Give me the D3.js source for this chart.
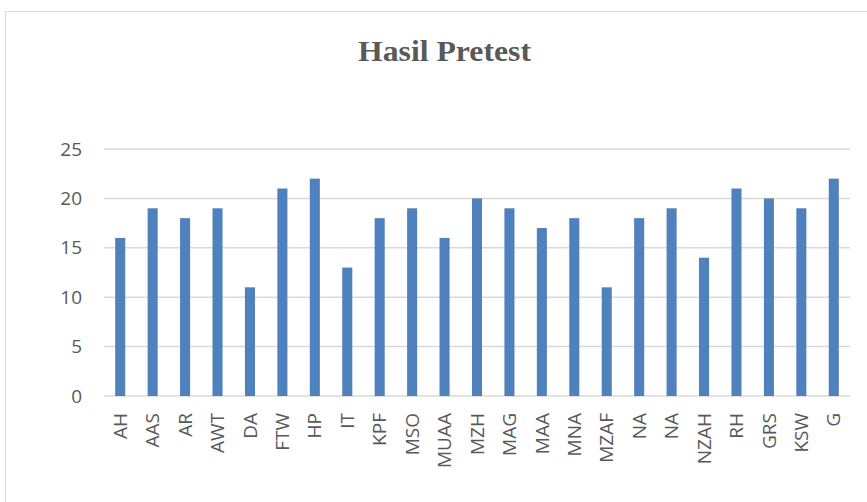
<!DOCTYPE html>
<html>
<head>
<meta charset="utf-8">
<script src="https://cdn.jsdelivr.net/npm/d3@7"></script>
<style>
  body { margin: 0; background: #fff; }
  svg { display: block; }
</style>
</head>
<body>
<svg id="chart" width="867" height="502"></svg>
<script>
// data
const names = [ 'AH', 'AAS', 'AR', 'AWT', 'DA', 'FTW', 'HP', 'IT', 'KPF', 'MSO', 'MUAA', 'MZH',
                'MAG', 'MAA', 'MNA', 'MZAF', 'NA', 'NA', 'NZAH', 'RH', 'GRS', 'KSW', 'G' ]
const scores = [ 16, 19, 18, 19, 11, 21, 22, 13, 18, 19, 16, 20, 19, 17, 18, 11, 18, 19, 14, 21, 20, 19, 22 ]
const yTicks = [ 0, 5, 10, 15, 20, 25 ]
const title = 'Hasil Pretest'

const svg = d3.select('#chart')
const plot = { left: 104, right: 850, top: 149, bottom: 396 }
const labelFont = '"Open Sans", "Liberation Sans", sans-serif'

// chart frame
svg.append('rect')
  .attr('x', 5.5).attr('y', 11.5)
  .attr('width', 900).attr('height', 600)
  .attr('fill', '#fff')
  .attr('stroke', '#d9d9d9')
  .attr('stroke-width', 1)

svg.append('text')
  .attr('x', 358).attr('y', 61)
  .attr('textLength', 173)
  .attr('lengthAdjust', 'spacingAndGlyphs')
  .style('font-family', '"Liberation Serif", "Times New Roman", serif')
  .style('font-weight', 'bold')
  .style('font-size', '29px')
  .style('fill', '#595959')
  .text(title)

const x = d3.scaleBand()
  .domain(d3.range(names.length))
  .range([ plot.left, plot.right ])
  .paddingInner(0.69)
  .paddingOuter(0.345)

const y = d3.scaleLinear()
  .domain([ 0, 25 ])
  .range([ plot.bottom, plot.top ])

// gridlines
svg.append('g')
  .selectAll('line')
  .data(yTicks)
  .join('line')
    .attr('x1', plot.left).attr('x2', plot.right)
    .attr('y1', d => y(d)).attr('y2', d => y(d))
    .attr('stroke', '#d9d9d9')
    .attr('stroke-width', 1.5)

// y labels
const yAxis = svg.append('g')
  .attr('transform', `translate(${plot.left - 22},0)`)
  .call(d3.axisLeft(y).tickValues(yTicks).tickSize(0).tickPadding(0))
yAxis.select('.domain').remove()
yAxis.selectAll('text')
  .style('font-family', labelFont)
  .style('font-size', '19px')
  .style('fill', '#595959')

// bars
svg.append('g')
  .selectAll('rect')
  .data(scores)
  .join('rect')
    .attr('x', (d, i) => x(i))
    .attr('y', d => y(d))
    .attr('width', x.bandwidth())
    .attr('height', d => y(0) - y(d))
    .attr('fill', '#4f81bd')

// x labels, rotated
const xAxis = svg.append('g')
  .attr('transform', `translate(0,${plot.bottom})`)
  .call(d3.axisBottom(x).tickSize(0).tickFormat(i => names[i]))
xAxis.select('.domain').remove()
xAxis.selectAll('text')
  .attr('transform', 'rotate(-90)')
  .attr('x', -17)
  .attr('y', 0)
  .attr('dy', '0.35em')
  .attr('text-anchor', 'end')
  .style('font-family', labelFont)
  .style('font-size', '19px')
  .style('fill', '#595959')
</script>
</body>
</html>
